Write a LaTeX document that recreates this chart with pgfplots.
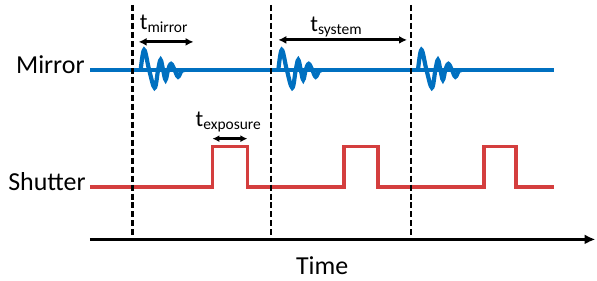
\documentclass[border=0pt]{standalone}
\usepackage{fontspec}
\setmainfont{Carlito}
\usepackage{pgfplots}
\pgfplotsset{compat=1.18}
\usetikzlibrary{arrows.meta}
\definecolor{mblue}{RGB}{0,112,192}
\definecolor{sred}{RGB}{212,62,62}
\newcommand{\tsub}[1]{t\raisebox{-3pt}{\fontsize{15.5}{16}\selectfont #1}}
\begin{document}
\begin{tikzpicture}
\begin{axis}[scale only axis, width=597pt, height=281pt,
  xmin=0, xmax=597, ymin=0, ymax=281, y dir=reverse,
  hide axis, clip=false]
\path (rel axis cs:0,0) rectangle (rel axis cs:1,1);
% mirror baseline
\addplot[mblue, line width=4.2pt] coordinates {(90,70.5)(555,70.5)};
% mirror oscillations
\addplot[mblue, line width=4.2pt, smooth, tension=0.6] coordinates {(141,70.5)(144.5,50)(149.5,70)(155,88)(158.5,70)(161,60)(163.5,70)(166,80)(168.5,70)(171.5,64)(175,70)(178.5,77)(182,71)(185,70.5)};
\addplot[mblue, line width=4.2pt, smooth, tension=0.6] coordinates {(279,70.5)(282.5,50)(287.5,70)(293,88)(296.5,70)(299,60)(301.5,70)(304,80)(306.5,70)(309.5,64)(313,70)(316.5,77)(320,71)(323,70.5)};
\addplot[mblue, line width=4.2pt, smooth, tension=0.6] coordinates {(419,70.5)(422.5,50)(427.5,70)(433,88)(436.5,70)(439,60)(441.5,70)(444,80)(446.5,70)(449.5,64)(453,70)(456.5,77)(460,71)(463,70.5)};
% shutter
\addplot[sred, line width=3.6pt, line join=miter] coordinates {(90,187.5)(213,187.5)(213,147)(248,147)(248,187.5)(345,187.5)(345,147)(379,147)(379,187.5)(485,187.5)(485,147)(517,147)(517,187.5)(555,187.5)};
% time axis
\addplot[black, line width=3pt, arrows={-Latex[length=11pt,width=10pt]}] coordinates {(90,240)(597,240)};
% interval arrows
\addplot[black, line width=3pt, arrows={Latex[length=8pt,width=8pt]-Latex[length=8pt,width=8pt]}] coordinates {(139,42)(194,42)};
\addplot[black, line width=3pt, arrows={Latex[length=8pt,width=8pt]-Latex[length=8pt,width=8pt]}] coordinates {(279,40)(408,40)};
\addplot[black, line width=3pt, arrows={Latex[length=7pt,width=7pt]-Latex[length=7pt,width=7pt]}] coordinates {(213,139)(248,139)};
% dashed lines
\addplot[black, line width=2.4pt, dash pattern=on 6pt off 3pt] coordinates {(133,5)(133,240)};
\addplot[black, line width=2.4pt, dash pattern=on 6pt off 3pt] coordinates {(271.5,5)(271.5,240)};
\addplot[black, line width=2.4pt, dash pattern=on 6pt off 3pt] coordinates {(412,5)(412,240)};
% labels
\node[anchor=base east, inner sep=0, font=\fontsize{26}{30}\selectfont] at (axis cs:85,74) {Mirror};
\node[anchor=base east, inner sep=0, font=\fontsize{26}{30}\selectfont] at (axis cs:86,191) {Shutter};
\node[anchor=base, inner sep=0, font=\fontsize{26}{30}\selectfont] at (axis cs:323,275) {Time};
\node[anchor=base west, inner sep=0, font=\fontsize{23}{26}\selectfont] at (axis cs:140,30) {\tsub{mirror}};
\node[anchor=base west, inner sep=0, font=\fontsize{23}{26}\selectfont] at (axis cs:311,32) {\tsub{system}};
\node[anchor=base west, inner sep=0, font=\fontsize{23}{26}\selectfont] at (axis cs:196,127) {\tsub{exposure}};
\end{axis}
\end{tikzpicture}
\end{document}
